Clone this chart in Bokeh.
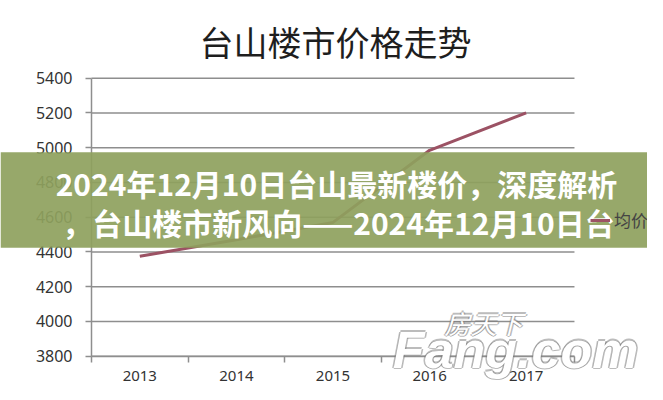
from bokeh.plotting import figure
from bokeh.models import (FixedTicker, Label, BoxAnnotation, Legend, LegendItem, ColumnDataSource)
from bokeh.embed import file_html
from bokeh.resources import INLINE

# ---- data ----
years = ["2013", "2014", "2015", "2016", "2017"]
prices = [4375, 4470, 4570, 4985, 5200]
y_ticks = [3800, 4000, 4200, 4400, 4600, 4800, 5000, 5200, 5400]
title_text = "台山楼市价格走势"
series_name = "均价"
banner_line1 = "2024年12月10日台山最新楼价，深度解析"
banner_line2 = "，台山楼市新风向——2024年12月10日台"
wm_big = "Fang.com"
wm_small = "房天下"

xs = list(range(len(years)))
src = ColumnDataSource(dict(x=xs, y=prices))
x_lo, x_hi = -0.5, len(years) - 0.5
y_lo, y_hi = y_ticks[0], y_ticks[-1]

# frame covers the whole canvas; axes are pinned with fixed_location
p = figure(width=647, height=384, output_backend="svg", toolbar_location=None,
           x_range=(-1.442, 5.256), y_range=(3637.1, 5847.2),
           min_border=0)
p.background_fill_color = "white"
p.border_fill_color = "white"
p.outline_line_color = None
p.xgrid.visible = False
p.ygrid.visible = False

# horizontal gridlines over the plot area only
grid_src = ColumnDataSource(dict(x0=[x_lo] * len(y_ticks), x1=[x_hi] * len(y_ticks), y=y_ticks))
p.segment(x0="x0", y0="y", x1="x1", y1="y", source=grid_src, line_color="#8e8e8e", line_width=1.5)

# y axis
ya = p.yaxis[0]
ya.fixed_location = x_lo
ya.bounds = (y_lo, y_hi)
ya.ticker = FixedTicker(ticks=y_ticks)
ya.axis_line_color = "#8e8e8e"
ya.axis_line_width = 1.5
ya.major_tick_line_color = "#8e8e8e"
ya.major_tick_line_width = 1.5
ya.major_tick_out = 6
ya.major_tick_in = 0
ya.minor_tick_line_color = None
ya.major_label_standoff = 13
ya.major_label_text_font = "Noto Sans"
ya.major_label_text_font_size = "16px"
ya.major_label_text_color = "#333333"

# x axis: labels at category centres, ticks at category boundaries
xa = p.xaxis[0]
xa.fixed_location = y_lo
xa.bounds = (x_lo, x_hi)
xa.ticker = FixedTicker(ticks=xs, minor_ticks=[i - 0.5 for i in range(len(years) + 1)])
xa.major_label_overrides = {i: y for i, y in enumerate(years)}
xa.axis_line_color = "#8e8e8e"
xa.axis_line_width = 1.5
xa.major_tick_line_color = None
xa.major_tick_out = 0
xa.major_tick_in = 0
xa.minor_tick_line_color = "#8e8e8e"
xa.minor_tick_line_width = 1.5
xa.minor_tick_out = 6
xa.minor_tick_in = 0
xa.major_label_standoff = 9
xa.major_label_text_font = "Noto Sans"
xa.major_label_text_font_size = "15px"
xa.major_label_text_color = "#333333"

r = p.line("x", "y", source=src, line_color="#9c5264", line_width=3)

# title
p.add_layout(Label(x=2.026, y=5610, text=title_text, text_align="center", text_baseline="middle",
                   text_font="Noto Sans CJK SC", text_font_size="34px", text_color="#1e1e1e"))

# legend (sits under the banner)
legend = Legend(items=[LegendItem(label=series_name, renderers=[r])], location=(590, 152),
                glyph_width=20, glyph_height=20, label_height=20, label_standoff=4,
                padding=0, margin=0, spacing=0,
                border_line_color=None, background_fill_alpha=0,
                label_text_font="Noto Sans CJK SC", label_text_font_size="17px",
                label_text_color="#444444")
p.add_layout(legend)

# watermark: white letters with a soft grey edge
px_x, px_y = 1 / 96.6, 5.7554
for dx, dy, col, a in [(-1.5, 0, "#7a7a7a", 0.5), (1.5, 0, "#7a7a7a", 0.5),
                       (0, 1.5, "#7a7a7a", 0.5), (0, -1.5, "#7a7a7a", 0.5),
                       (0, 0, "white", 1.0)]:
    p.add_layout(Label(x=2.62 + dx * px_x, y=3836 + dy * px_y, text=wm_big,
                       text_align="left", text_baseline="alphabetic",
                       text_font="Liberation Sans", text_font_style="bold italic",
                       text_font_size="52px", text_color=col, text_alpha=a))
    p.add_layout(Label(x=3.558 + dx * px_x, y=3995 + dy * px_y, text=wm_small,
                       text_align="center", text_baseline="middle",
                       text_font="Noto Sans CJK SC", text_font_style="italic", text_font_size="26px",
                       text_color=col, text_alpha=a))

# banner
p.add_layout(BoxAnnotation(top=4974, bottom=4424,
                           fill_color="#8ea15d", fill_alpha=0.92, line_color=None))
p.add_layout(Label(x=2.036, y=4794, text=banner_line1, text_align="center", text_baseline="middle",
                   text_font="Noto Sans CJK SC", text_font_style="bold", text_font_size="30px",
                   text_color="white"))
p.add_layout(Label(x=2.057, y=4571, text=banner_line2, text_align="center", text_baseline="middle",
                   text_font="Noto Sans CJK SC", text_font_style="bold", text_font_size="30px",
                   text_color="white"))

open("out.html", "w").write(file_html(p, INLINE))
